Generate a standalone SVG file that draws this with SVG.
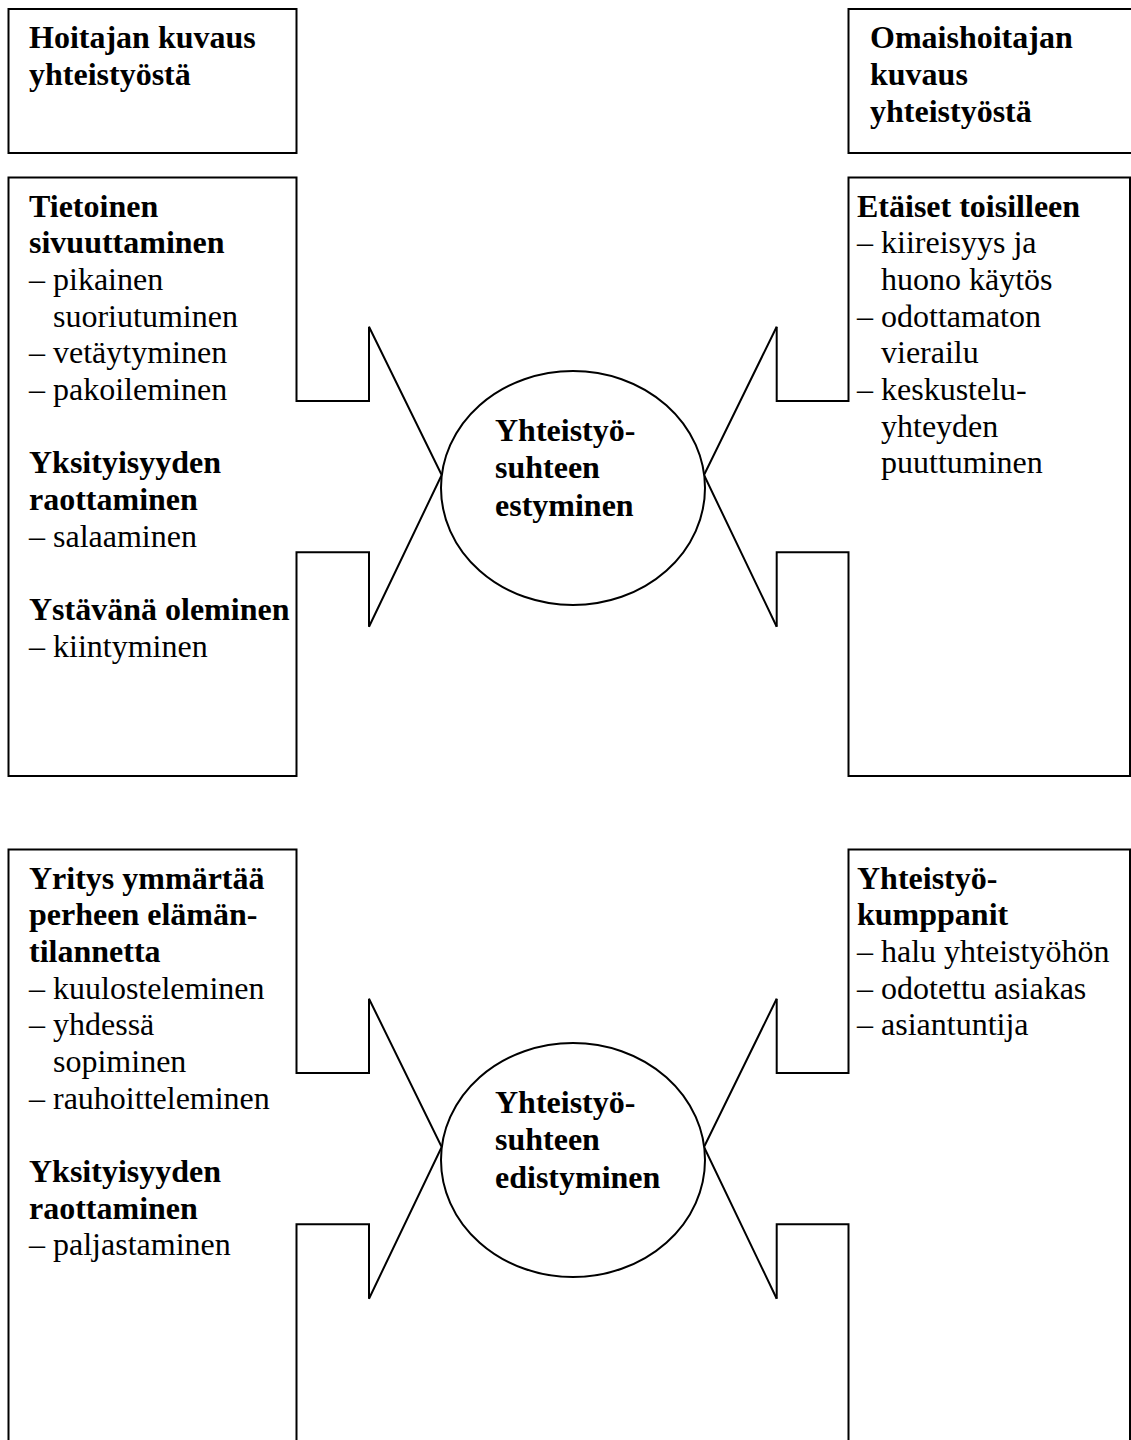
<svg xmlns="http://www.w3.org/2000/svg" width="1131" height="1440" viewBox="0 0 1131 1440">
<style>
.box{fill:none;stroke:#000;stroke-width:2}
.circ{fill:#fff;stroke:#000;stroke-width:2}
.con{fill:none;stroke:#000;stroke-width:2}
text{font-family:"Liberation Serif","Times New Roman",serif;font-size:32px;fill:#000}
.b{font-weight:bold}
</style>
<rect width="1131" height="1440" fill="#fff"/>
<g id="connectors">
<path class="con" d="M369,326.7 L441.7,475 L369,626.7"/>
<path class="con" d="M776.7,326.7 L704,475 L776.7,626.7"/>
<path class="con" d="M369,998.7 L441.7,1147 L369,1298.7"/>
<path class="con" d="M776.7,998.7 L704,1147 L776.7,1298.7"/>
</g>
<g id="hoitaja-header">
<rect class="box" x="8.5" y="9" width="288" height="144"/>
<text class="b" x="29" y="48.3">Hoitajan kuvaus</text>
<text class="b" x="29" y="85">yhteistyöstä</text>
</g>
<g id="omaishoitaja-header">
<path class="box" d="M1131,9 H848.5 V153 H1131"/>
<text class="b" x="870" y="48.3">Omaishoitajan</text>
<text class="b" x="870" y="85">kuvaus</text>
<text class="b" x="870" y="121.7">yhteistyöstä</text>
</g>
<g id="hoitaja-estyminen">
<path class="box" d="M369,326.7 V401 H296.5 V177.5 H8.5 V776 H296.5 V552.3 H369 V626.7"/>
<text class="b" x="29" y="216.7">Tietoinen</text>
<text class="b" x="29" y="253.3">sivuuttaminen</text>
<text x="29" y="290">– pikainen</text>
<text x="53" y="326.7">suoriutuminen</text>
<text x="29" y="363.3">– vetäytyminen</text>
<text x="29" y="400">– pakoileminen</text>
<text class="b" x="29" y="473.3">Yksityisyyden</text>
<text class="b" x="29" y="510">raottaminen</text>
<text x="29" y="546.7">– salaaminen</text>
<text class="b" x="29" y="620">Ystävänä oleminen</text>
<text x="29" y="656.7">– kiintyminen</text>
</g>
<g id="omaishoitaja-estyminen">
<path class="box" d="M776.7,326.7 V401 H848.5 V177.5 H1130 V776 H848.5 V552.3 H776.7 V626.7"/>
<text class="b" x="857" y="216.7">Etäiset toisilleen</text>
<text x="857" y="253.3">– kiireisyys ja</text>
<text x="881" y="290">huono käytös</text>
<text x="857" y="326.7">– odottamaton</text>
<text x="881" y="363.3">vierailu</text>
<text x="857" y="400">– keskustelu-</text>
<text x="881" y="436.7">yhteyden</text>
<text x="881" y="473.3">puuttuminen</text>
</g>
<g id="estyminen">
<ellipse class="circ" cx="573" cy="488" rx="132" ry="117"/>
<text class="b" x="495" y="440.7">Yhteistyö-</text>
<text class="b" x="495" y="478.3">suhteen</text>
<text class="b" x="495" y="515.7">estyminen</text>
</g>
<g id="hoitaja-edistyminen">
<path class="box" d="M369,998.7 V1073 H296.5 V849.5 H8.5 V1450 M296.5,1450 V1224.3 H369 V1298.7"/>
<text class="b" x="29" y="888.7">Yritys ymmärtää</text>
<text class="b" x="29" y="925.3">perheen elämän-</text>
<text class="b" x="29" y="962">tilannetta</text>
<text x="29" y="998.7">– kuulosteleminen</text>
<text x="29" y="1035.3">– yhdessä</text>
<text x="53" y="1072">sopiminen</text>
<text x="29" y="1108.7">– rauhoitteleminen</text>
<text class="b" x="29" y="1182">Yksityisyyden</text>
<text class="b" x="29" y="1218.7">raottaminen</text>
<text x="29" y="1255.3">– paljastaminen</text>
</g>
<g id="omaishoitaja-edistyminen">
<path class="box" d="M776.7,998.7 V1073 H848.5 V849.5 H1130 V1450 M848.5,1450 V1224.3 H776.7 V1298.7"/>
<text class="b" x="857" y="888.7">Yhteistyö-</text>
<text class="b" x="857" y="925.3">kumppanit</text>
<text x="857" y="962">– halu yhteistyöhön</text>
<text x="857" y="998.7">– odotettu asiakas</text>
<text x="857" y="1035.3">– asiantuntija</text>
</g>
<g id="edistyminen">
<ellipse class="circ" cx="573" cy="1160" rx="132" ry="117"/>
<text class="b" x="495" y="1112.7">Yhteistyö-</text>
<text class="b" x="495" y="1150.3">suhteen</text>
<text class="b" x="495" y="1187.7">edistyminen</text>
</g>
</svg>
